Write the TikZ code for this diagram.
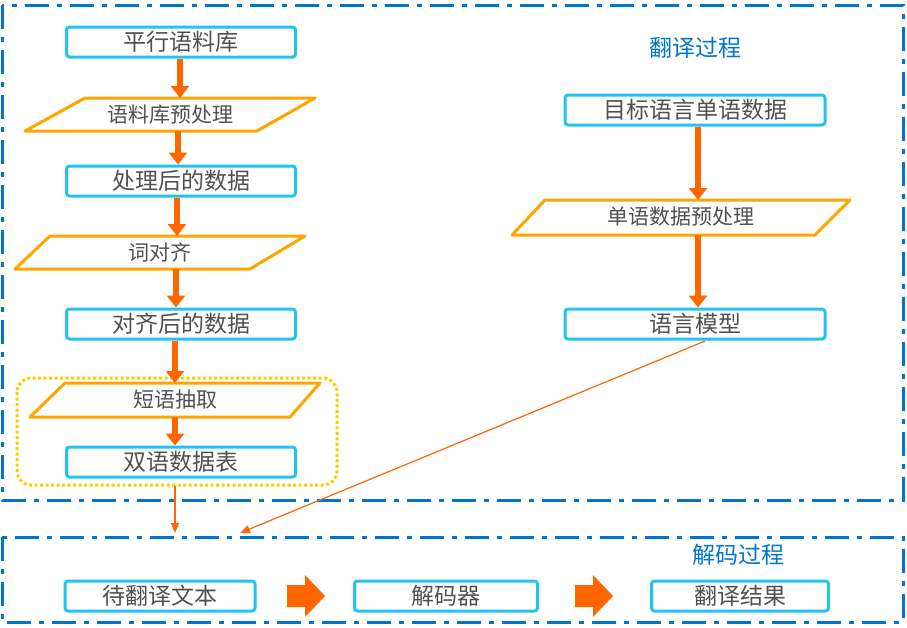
\documentclass[tikz,border=0pt]{standalone}
\usepackage{fontspec}
\newfontfamily\cjk{Noto Sans CJK SC}
\usetikzlibrary{arrows.meta}
\definecolor{frameblue}{HTML}{0075CF}
\definecolor{boxcyan}{HTML}{22C3F0}
\definecolor{paraorange}{HTML}{FFA500}
\definecolor{arroworange}{HTML}{FF6600}
\definecolor{txtgray}{HTML}{505050}
\definecolor{dotyellow}{HTML}{FFCC00}
\tikzset{
  frame/.style={draw=frameblue,line width=3pt,dash pattern=on 24pt off 8pt on 5pt off 8pt},
  boxnode/.style={draw=boxcyan,line width=3pt,rounded corners=3pt,minimum width=229pt,minimum height=30pt,inner sep=0pt,text=txtgray,font=\cjk\fontsize{23}{23}\selectfont},
  paratext/.style={text=txtgray,font=\cjk\fontsize{21}{21}\selectfont,inner sep=0pt},
  paraline/.style={draw=paraorange,line width=3pt,line join=round},
  fatarrow/.style={draw=arroworange,line width=6pt,-{Triangle[width=18pt,length=12pt]}},
  thinarrow/.style={draw=arroworange,line width=1.2pt,-{Triangle[width=8pt,length=10pt]}},
  title/.style={text=frameblue,font=\cjk\fontsize{23}{23}\selectfont},
}
\begin{document}
\begin{tikzpicture}[x=1pt,y=-1pt]
\useasboundingbox (0,0) rectangle (907,627);
\draw[frame] (2,5) rectangle (903,500);
\draw[frame] (2,537) rectangle (903,622);
\draw[draw=dotyellow,line width=3pt,dash pattern=on 3pt off 2.5pt,rounded corners=14pt] (17,378) rectangle (337,485);
\node[title] (t1) at (695,48) {翻译过程};
\node[title] (t2) at (738,555) {解码过程};
% left column
\node[boxnode] (a) at (181,42) {平行语料库};
\node[paratext] (p1) at (170,115) {语料库预处理};
\draw[paraline] (85,98) -- (315,98) -- (257,131) -- (25,131) -- cycle;
\node[boxnode] (b) at (181,181) {处理后的数据};
\node[paratext] (p2) at (160,252) {词对齐};
\draw[paraline] (50,236) -- (305,236) -- (250,269) -- (15,269) -- cycle;
\node[boxnode] (c) at (181,324) {对齐后的数据};
\node[paratext] (p3) at (175,400) {短语抽取};
\draw[paraline] (65,383) -- (320,383) -- (290,417) -- (30,417) -- cycle;
\node[boxnode] (d) at (181,462) {双语数据表};
\coordinate (p1t) at (180,98); \coordinate (p1b) at (178,131);
\coordinate (p2t) at (177,236); \coordinate (p2b) at (176,269);
\coordinate (p3t) at (175,383); \coordinate (p3b) at (175,417);
\draw[fatarrow] (a.south -| p1t) -- (p1t);
\draw[fatarrow] (p1b) -- (b.north -| p1b);
\draw[fatarrow] (b.south -| p2t) -- (p2t);
\draw[fatarrow] (p2b) -- (c.north -| p2b);
\draw[fatarrow] (c.south -| p3t) -- (p3t);
\draw[fatarrow] (p3b) -- (d.north -| p3b);
% right column
\node[boxnode,minimum width=260pt] (e) at (695,110) {目标语言单语数据};
\node[paratext] (p4) at (681,217) {单语数据预处理};
\draw[paraline] (545,200) -- (850,200) -- (815,235) -- (512,235) -- cycle;
\node[boxnode,minimum width=260pt] (f) at (695,324) {语言模型};
\coordinate (p4t) at (698,200); \coordinate (p4b) at (698,235);
\draw[fatarrow] (e.south -| p4t) -- (p4t);
\draw[fatarrow] (p4b) -- (f.north -| p4b);
% decoding
\node[boxnode,minimum width=190pt] (g) at (160,596) {待翻译文本};
\node[boxnode,minimum width=183pt] (h) at (446,596) {解码器};
\node[boxnode,minimum width=177pt] (i) at (740,596) {翻译结果};
\coordinate (in1) at (175,533);
\coordinate (in2) at (240,533);
\draw[thinarrow] (175,486) -- (in1);
\draw[thinarrow] (705,341) -- (in2);
\fill[arroworange] (287,585) -- (305,585) -- (305,575) -- (325,596) -- (305,617) -- (305,607) -- (287,607) -- cycle;
\fill[arroworange] (575,585) -- (593,585) -- (593,575) -- (613,596) -- (593,617) -- (593,607) -- (575,607) -- cycle;
\end{tikzpicture}
\end{document}
